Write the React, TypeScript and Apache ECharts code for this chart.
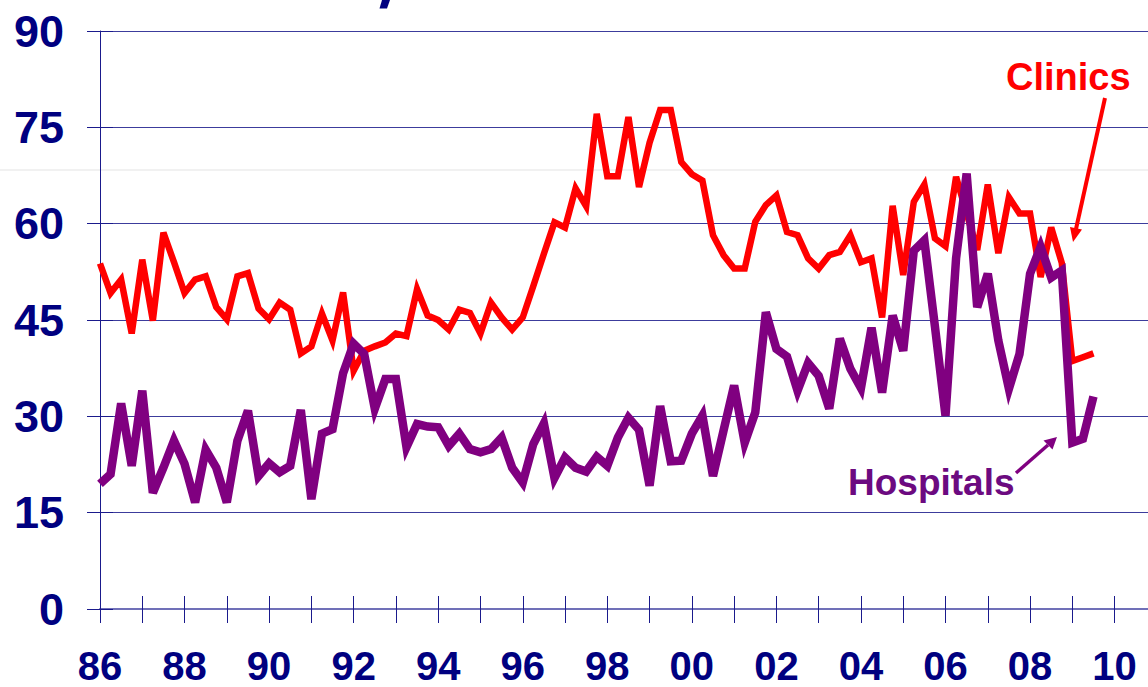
import React, { useEffect, useRef } from "react";
import * as echarts from "echarts";

// Quarterly series starting 1986 Q1
const START_YEAR = 1986;

const clinics = [
  53.8, 49.2, 51.3, 42.9, 54.4, 44.9, 58.6, 54.0, 49.2, 51.3, 51.8, 47.0,
  45.1, 51.8, 52.3, 46.8, 45.1, 47.7, 46.6, 39.8, 40.9, 46.0, 41.8, 49.3,
  37.1, 40.2, 40.9, 41.5, 42.9, 42.5, 49.8, 45.7, 45.0, 43.5, 46.6, 46.1,
  42.9, 47.7, 45.4, 43.5, 45.4, 50.3, 55.3, 60.2, 59.4, 65.5, 62.7, 77.1,
  67.4, 67.4, 76.6, 65.7, 72.6, 77.7, 77.7, 69.6, 67.7, 66.7, 58.2, 55.1,
  53.0, 53.0, 60.3, 62.9, 64.4, 58.7, 58.2, 54.6, 53.0, 55.1, 55.6, 58.2,
  54.0, 54.6, 45.4, 62.8, 52.0, 63.4, 66.1, 57.7, 56.5, 67.3, 61.6, 55.9,
  66.1, 55.4, 64.1, 61.6, 61.6, 51.7, 59.4, 53.9, 38.6, 39.2, 39.8,
];

const hospitals = [
  19.5, 21.0, 32.0, 22.3, 34.0, 18.1, 22.0, 26.2, 22.6, 16.6, 24.8, 22.0,
  16.6, 26.2, 30.9, 20.7, 22.7, 21.3, 22.3, 31.0, 17.1, 27.3, 28.0, 36.7,
  41.3, 39.7, 31.2, 35.8, 35.8, 25.2, 28.8, 28.4, 28.3, 25.4, 27.3, 24.9,
  24.4, 24.9, 26.7, 22.0, 19.7, 25.7, 28.9, 20.4, 23.6, 22.0, 21.4, 23.7,
  22.3, 26.7, 29.8, 27.9, 19.2, 31.6, 23.0, 23.1, 27.3, 30.1, 20.7, 27.8,
  34.8, 25.9, 30.6, 46.2, 40.5, 39.3, 34.0, 38.3, 36.3, 31.2, 42.1, 37.4,
  34.4, 43.8, 33.7, 45.7, 40.2, 55.8, 57.4, 44.0, 30.1, 54.6, 67.8, 47.0,
  52.2, 41.8, 34.3, 39.7, 52.2, 56.4, 51.6, 52.7, 25.9, 26.5, 33.1,
];

const Y_MIN = 0;
const Y_MAX = 90;
const Y_STEP = 15;
const X_MIN = 1986;
const X_MAX = 2010.79;

const NAVY = "#000080";
const FONT = "'Liberation Sans', Arial, sans-serif";

const toPairs = (vals: number[]) =>
  vals.map((v, i) => [START_YEAR + i / 4, v]);

const xLabel = (v: number) =>
  Number.isInteger(v) && v % 2 === 0 ? String(v).slice(2) : "";

export default function App() {
  const ref = useRef<HTMLDivElement>(null);

  useEffect(() => {
    if (!ref.current) return;
    const chart = echarts.init(ref.current, null, { renderer: "svg" });

    const gridBox = { left: 100, top: 31, width: 1050, bottom: 78 };

    chart.setOption({
      animation: false,
      backgroundColor: "#ffffff",
      grid: [gridBox, { ...gridBox }],
      xAxis: [
        {
          type: "value",
          gridIndex: 0,
          min: X_MIN,
          max: X_MAX,
          interval: 1,
          axisLine: { show: true, lineStyle: { color: "#7070b8", width: 2 } },
          axisTick: {
            show: true,
            length: 14,
            lineStyle: { color: "#1a1a8c", width: 1 },
          },
          axisLabel: {
            formatter: xLabel,
            color: NAVY,
            fontSize: 40,
            fontWeight: "bold",
            fontFamily: FONT,
            margin: 37,
            showMaxLabel: false,
          },
          splitLine: { show: false },
        },
        {
          type: "value",
          gridIndex: 1,
          min: X_MIN,
          max: X_MAX,
          interval: 1,
          axisLine: { show: false },
          axisTick: {
            show: true,
            inside: true,
            length: 13,
            lineStyle: { color: "#1a1a8c", width: 1 },
          },
          axisLabel: { show: false },
          splitLine: { show: false },
        },
      ],
      yAxis: [
        {
          type: "value",
          gridIndex: 0,
          min: Y_MIN,
          max: Y_MAX,
          interval: Y_STEP,
          axisLine: { show: true, lineStyle: { color: "#1a1a8c", width: 1 } },
          axisTick: {
            show: true,
            length: 13,
            lineStyle: { color: "#1a1a8c", width: 1 },
          },
          axisLabel: {
            color: NAVY,
            fontSize: 45,
            fontWeight: "bold",
            fontFamily: FONT,
            margin: 36,
          },
          splitLine: {
            show: true,
            lineStyle: { color: "#3c3c9c", width: 1 },
          },
        },
        {
          type: "value",
          gridIndex: 1,
          min: Y_MIN,
          max: Y_MAX,
          interval: Y_STEP,
          axisLine: { show: false },
          axisTick: {
            show: true,
            inside: true,
            length: 13,
            lineStyle: { color: "#1a1a8c", width: 1 },
          },
          axisLabel: { show: false },
          splitLine: { show: false },
        },
      ],
      series: [
        {
          name: "Clinics",
          type: "line",
          xAxisIndex: 0,
          yAxisIndex: 0,
          data: toPairs(clinics),
          showSymbol: false,
          symbol: "none",
          lineStyle: { color: "#ff0000", width: 6.5, join: "miter", miterLimit: 4 },
          z: 3,
        },
        {
          name: "Hospitals",
          type: "line",
          xAxisIndex: 0,
          yAxisIndex: 0,
          data: toPairs(hospitals),
          showSymbol: false,
          symbol: "none",
          lineStyle: { color: "#800080", width: 8.5, join: "miter", miterLimit: 4 },
          z: 4,
        },
      ],
      graphic: [
        {
          type: "line",
          z: -1,
          shape: { x1: 0, y1: 170, x2: 1148, y2: 170 },
          style: { stroke: "#f1f1f1", lineWidth: 2 },
        },
        {
          type: "polygon",
          shape: {
            points: [
              [382, 0],
              [390, 0],
              [387, 8.5],
              [379.5, 8.5],
            ],
          },
          style: { fill: NAVY },
        },
        {
          type: "text",
          z: 10,
          style: {
            text: "Clinics",
            x: 1006,
            y: 77,
            fill: "#ff0000",
            font: `bold 38px ${FONT}`,
            textAlign: "left",
            textVerticalAlign: "middle",
          },
        },
        {
          type: "line",
          z: 10,
          shape: { x1: 1105, y1: 98, x2: 1076, y2: 229 },
          style: { stroke: "#ff0000", lineWidth: 4 },
        },
        {
          type: "polygon",
          z: 10,
          shape: {
            points: [
              [1073, 242],
              [1082, 229.6],
              [1070, 227],
            ],
          },
          style: { fill: "#ff0000" },
        },
        {
          type: "text",
          z: 10,
          style: {
            text: "Hospitals",
            x: 848,
            y: 482,
            fill: "#6c0a80",
            font: `bold 37px ${FONT}`,
            textAlign: "left",
            textVerticalAlign: "middle",
          },
        },
        {
          type: "line",
          z: 10,
          shape: { x1: 1016, y1: 473, x2: 1048, y2: 445 },
          style: { stroke: "#800080", lineWidth: 3.5 },
        },
        {
          type: "polygon",
          z: 10,
          shape: {
            points: [
              [1057, 437],
              [1052.5, 449.5],
              [1043.5, 440.5],
            ],
          },
          style: { fill: "#800080" },
        },
      ],
    });

    return () => chart.dispose();
  }, []);

  return (
    <div
      ref={ref}
      style={{
        position: "fixed",
        left: 0,
        top: 0,
        width: 1148,
        height: 687,
        background: "#ffffff",
      }}
    />
  );
}
